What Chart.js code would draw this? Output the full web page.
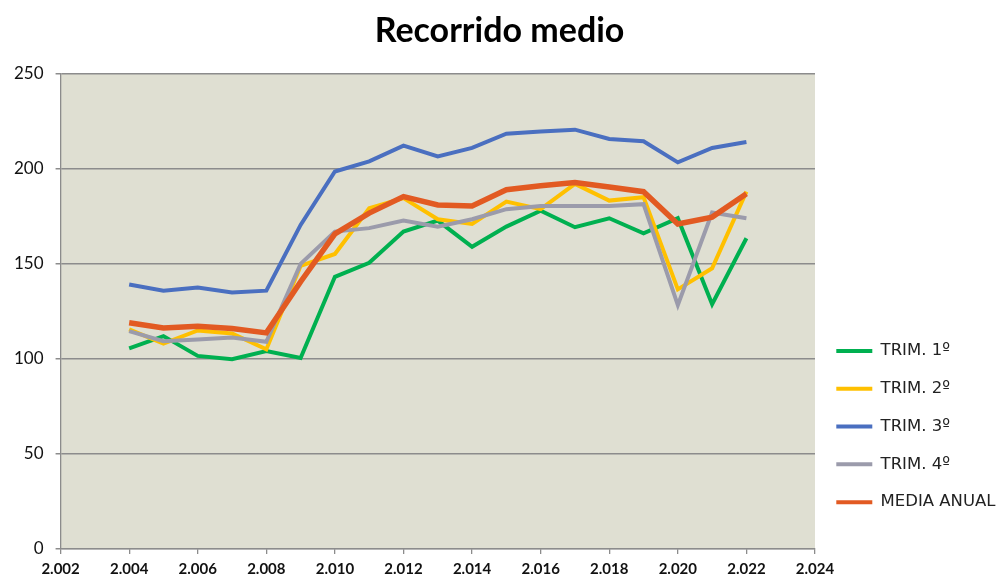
<!DOCTYPE html>
<html>
<head>
<meta charset="utf-8">
<script src="https://cdn.jsdelivr.net/npm/chart.js@4"></script>
<style>
  html, body { margin: 0; padding: 0; background: #fff; }
  #wrap { width: 997px; height: 579px; }
</style>
</head>
<body>
<div id="wrap"><canvas id="myChart" width="997" height="579"></canvas></div>
<script>
const years = [2004, 2005, 2006, 2007, 2008, 2009, 2010, 2011, 2012, 2013, 2014, 2015, 2016, 2017, 2018, 2019, 2020, 2021, 2022];
const trim1 = [105.5, 112, 101.6, 99.8, 104.2, 100.5, 143.2, 150.6, 167, 172.8, 159, 169.6, 178, 169.3, 174, 166.1, 174, 128.8, 163.5];
const trim2 = [115.5, 108.1, 115, 113.4, 105, 149, 155.2, 179.3, 184.6, 173.5, 171, 182.8, 178.8, 192.1, 183.3, 185.1, 136.6, 147.7, 188];
const trim3 = [139.2, 135.9, 137.6, 135, 135.9, 170.5, 198.6, 203.9, 212.2, 206.5, 211, 218.5, 219.7, 220.6, 215.7, 214.5, 203.4, 211, 214.1];
const trim4 = [114.6, 109.3, 110.2, 111.3, 109, 150, 167, 168.8, 172.8, 169.6, 173.5, 178.8, 180.5, 180.5, 180.5, 181.4, 128.3, 177, 174];
const mediaAnual = [119, 116.3, 117.2, 116, 113.7, 140.6, 165.8, 176.7, 185.4, 181, 180.5, 189, 191.1, 192.8, 190.4, 188, 171, 174.6, 186.9];

function pts(vals) {
  return vals.map((v, i) => ({ x: years[i], y: v }));
}

// fondo gris del area de trazado
const plotBg = {
  id: "plotBg",
  beforeDraw(chart) {
    const a = chart.chartArea;
    const ctx = chart.ctx;
    ctx.save();
    ctx.fillStyle = "#dfdfd2";
    ctx.fillRect(a.left, a.top, a.right - a.left, a.bottom - a.top);
    ctx.restore();
  }
};

function serie(label, data, color, width, order) {
  return {
    label: label,
    data: pts(data),
    borderColor: color,
    backgroundColor: color,
    borderWidth: width,
    pointRadius: 0,
    tension: 0,
    order: order,
  };
}

const myChart = new Chart("myChart", {
  type: "line",
  data: {
    datasets: [
      serie("TRIM. 1º", trim1, "#00b050", 4, 5),
      serie("TRIM. 2º", trim2, "#ffc000", 4, 4),
      serie("TRIM. 3º", trim3, "#4a6fc0", 4, 3),
      serie("TRIM. 4º", trim4, "#9b9bab", 4, 2),
      serie("MEDIA ANUAL", mediaAnual, "#e25a22", 5.5, 1),
    ],
  },
  options: {
    responsive: false,
    animation: false,
    layout: { padding: { left: 2, right: 0, top: 0, bottom: 0 } },
    plugins: {
      title: {
        display: true,
        text: "Recorrido medio",
        color: "#000",
        font: { family: "Lato", size: 34, weight: "bold" },
        padding: { top: 11, bottom: 22 },
      },
      legend: {
        position: "right",
        align: "start",
        maxWidth: 182,
        title: { display: true, text: " ", font: { size: 2 }, padding: { top: 319, bottom: 0 } },
        labels: {
          color: "#222",
          font: { family: "DejaVu Sans", size: 16.5 },
          boxWidth: 36,
          boxHeight: 4,
          padding: 21.3,
          sort: (a, b) => a.datasetIndex - b.datasetIndex,
          generateLabels: (chart) => {
            const items = Chart.defaults.plugins.legend.labels.generateLabels(chart);
            items.forEach((it) => { it.lineWidth = 0; it.strokeStyle = "rgba(0,0,0,0)"; });
            return items;
          },
        },
      },
      tooltip: { enabled: false },
    },
    scales: {
      x: {
        type: "linear",
        min: 2002,
        max: 2024,
        afterFit: (scale) => { scale.height = 30; },
        ticks: {
          stepSize: 2,
          color: "#111",
          font: { family: "Lato", size: 15, weight: "bold" },
          maxRotation: 0,
          padding: 6,
          callback: (v) => (v / 1000).toFixed(3),
        },
        grid: { drawOnChartArea: false, drawTicks: true, tickLength: 5, color: "#8c8c8c", lineWidth: 1.3 },
        border: { color: "#8c8c8c", width: 1.3 },
      },
      y: {
        min: 0,
        max: 250,
        ticks: {
          stepSize: 50,
          color: "#111",
          font: { family: "Lato", size: 17 },
          padding: 12,
        },
        grid: { color: "#8c8c8c", lineWidth: 1.5, tickLength: 5 },
        border: { color: "#8c8c8c", width: 1.3 },
      },
    },
  },
  plugins: [plotBg],
});
</script>
</body>
</html>
